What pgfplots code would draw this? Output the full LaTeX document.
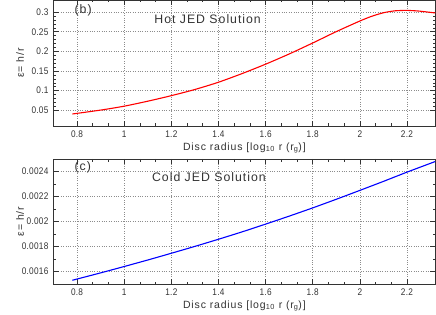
\documentclass[border=0pt]{standalone}
\usepackage{pgfplots}
\pgfplotsset{compat=1.18}
\usepackage{fontspec}
\setmainfont{Liberation Sans}[LetterSpace=8]
\newfontfamily\tickfont{Liberation Sans}[LetterSpace=3, FakeStretch=0.86]
\definecolor{txt}{HTML}{333333}
\definecolor{gridc}{HTML}{8C8C8C}
\begin{document}
\begin{tikzpicture}
\useasboundingbox (0,0) rectangle (436pt,-315pt);
\pgfplotsset{
  every axis/.append style={
    scale only axis,
    width=381.8pt,
    xmin=0.7, xmax=2.32,
    xtick={0.8,1,1.2,1.4,1.6,1.8,2,2.2},
    xticklabels={0.8,1,1.2,1.4,1.6,1.8,2,2.2},
    minor x tick num=2,
    tick align=inside,
    major tick length=5pt,
    minor tick length=2.5pt,
    axis line style={txt, line width=0.7pt},
    every tick/.style={txt, line width=0.6pt},
    grid=major,
    major grid style={gridc, dotted, line width=0.7pt},
    /pgf/number format/assume math mode=true,
    tick label style={font=\tickfont\fontsize{9.6}{11}\selectfont, text=txt},
    label style={font=\fontsize{10.5}{12}\selectfont, text=txt},
    xlabel={Disc radius [log\textsubscript{10} r (r\textsubscript{g})]},
    ylabel={ε= h/r},
    xlabel style={at={(axis description cs:0.5,0)}, anchor=center, yshift=-22pt},
    ylabel style={at={(axis description cs:-0.0877,0.5)}, anchor=center},
    xticklabel style={yshift=-1pt},
    yticklabel style={xshift=-1.5pt},
    scaled y ticks=false,
    clip=true,
  }
}
% top panel
\begin{axis}[
  at={(53.5pt,0pt)}, anchor=north west,
  height=126pt,
  ymin=0.01, ymax=0.331,
  ytick={0.05,0.1,0.15,0.2,0.25,0.3},
  yticklabels={0.05,0.1,0.15,0.2,0.25,0.3},
  minor y tick num=4,
]
\addplot[red, line width=1.1pt, smooth, tension=0.4] coordinates {
(0.78,0.0406) (0.9,0.0505) (1.0,0.0605) (1.1,0.0732) (1.2,0.0873)
(1.3,0.1030) (1.4,0.1215) (1.5,0.1435) (1.6,0.1675) (1.7,0.1935)
(1.8,0.2215) (1.9,0.2505) (2.0,0.2775) (2.05,0.2895) (2.1,0.2985)
(2.15,0.3035) (2.2,0.3045) (2.25,0.3028) (2.32,0.2980)
};
\node[anchor=west, font=\fontsize{12.3}{14}\selectfont, text=txt] at (axis description cs:0.046,0.92) {(b)};
\node[anchor=west, font=\fontsize{12.3}{14}\selectfont, text=txt] at (axis description cs:0.255,0.85) {Hot JED Solution};
\end{axis}
% bottom panel
\begin{axis}[
  at={(53.5pt,-159pt)}, anchor=north west,
  height=125pt,
  ymin=0.0015, ymax=0.0025,
  ytick={0.0016,0.0018,0.002,0.0022,0.0024},
  yticklabels={0.0016,0.0018,0.002,0.0022,0.0024},
  minor y tick num=1,
]
\addplot[blue, line width=1.1pt, smooth, tension=0.4] coordinates {
(0.78,0.00153) (0.9,0.001589) (1.0,0.00164) (1.1,0.001692) (1.2,0.001746)
(1.3,0.001801) (1.4,0.001858) (1.5,0.001917) (1.6,0.001979) (1.7,0.002043)
(1.8,0.002109) (1.9,0.002178) (2.0,0.002249) (2.1,0.002321) (2.2,0.002395)
(2.32,0.00248)
};
\node[anchor=west, font=\fontsize{12.3}{14}\selectfont, text=txt] at (axis description cs:0.046,0.935) {(c)};
\node[anchor=west, font=\fontsize{12.3}{14}\selectfont, text=txt] at (axis description cs:0.249,0.855) {Cold JED Solution};
\end{axis}
\end{tikzpicture}
\end{document}
